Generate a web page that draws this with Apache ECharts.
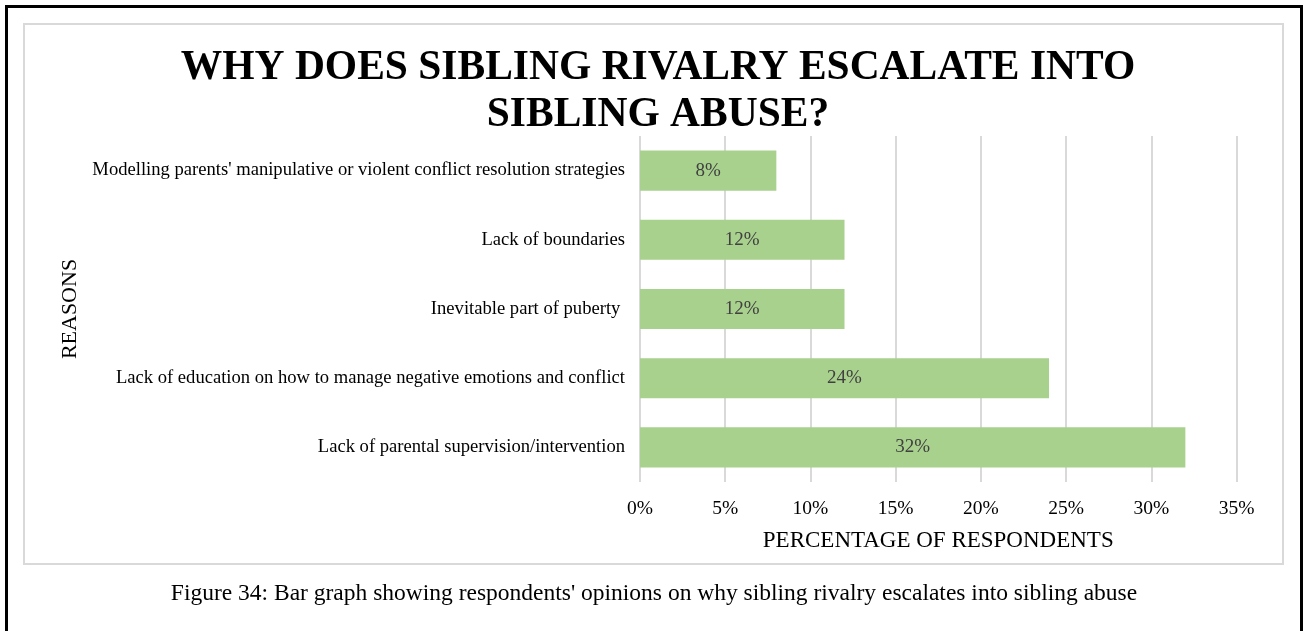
<!DOCTYPE html>
<html>
<head>
<meta charset="utf-8">
<script src="https://cdn.jsdelivr.net/npm/echarts@6/dist/echarts.min.js"></script>
<style>
  html, body { margin: 0; padding: 0; background: #fff; }
  #chart { width: 1308px; height: 631px; }
</style>
</head>
<body>
<div id="chart"></div>
<script>
// Reasons, listed bottom to top on the category axis
const reasons = [
  'Lack of parental supervision/intervention',
  'Lack of education on how to manage negative emotions and conflict',
  'Inevitable part of puberty ',
  'Lack of boundaries',
  "Modelling parents' manipulative or violent conflict resolution strategies"
];
// Share of respondents (%) for each reason
const shares = [32, 24, 12, 12, 8];
// Percentage axis ticks
const axisMin = 0;
const axisMax = 35;
const axisStep = 5;

const serif = '"Liberation Serif", "Times New Roman", serif';
const chart = echarts.init(document.getElementById('chart'));

chart.setOption({
  backgroundColor: '#ffffff',
  animation: false,
  title: {
    text: 'WHY DOES SIBLING RIVALRY ESCALATE INTO\nSIBLING ABUSE?',
    left: 653,
    textAlign: 'center',
    top: 40,
    textStyle: {
      fontFamily: serif,
      fontWeight: 'bold',
      fontSize: 41.5,
      lineHeight: 47,
      color: '#000000'
    }
  },
  graphic: [
    {
      type: 'rect',
      shape: { x: 6.5, y: 6.5, width: 1295, height: 640 },
      style: { fill: 'none', stroke: '#000000', lineWidth: 3 },
      silent: true
    },
    {
      type: 'rect',
      shape: { x: 24, y: 24, width: 1259, height: 540 },
      style: { fill: 'none', stroke: '#d9d9d9', lineWidth: 2 },
      silent: true
    },
    {
      type: 'text',
      left: 'center',
      top: 582,
      style: {
        text: "Figure 34: Bar graph showing respondents' opinions on why sibling rivalry escalates into sibling abuse",
        font: '23.5px ' + serif,
        fill: '#000000'
      }
    }
  ],
  grid: {
    left: 640,
    right: 71.5,
    top: 136,
    bottom: 149,
    containLabel: false
  },
  xAxis: {
    type: 'value',
    min: axisMin,
    max: axisMax,
    interval: axisStep,
    name: 'PERCENTAGE OF RESPONDENTS',
    nameLocation: 'middle',
    nameGap: 47,
    nameTextStyle: { fontFamily: serif, fontSize: 23, color: '#000000' },
    axisLine: { show: false },
    axisTick: { show: false },
    axisLabel: {
      formatter: '{value}%',
      margin: 17,
      fontFamily: serif,
      fontSize: 19.5,
      color: '#000000'
    },
    splitLine: { show: true, lineStyle: { color: '#d9d9d9', width: 2 } }
  },
  yAxis: {
    type: 'category',
    data: reasons,
    name: 'REASONS',
    nameLocation: 'middle',
    nameRotate: 90,
    nameGap: 559,
    nameTextStyle: { fontFamily: serif, fontSize: 22, color: '#000000' },
    axisLine: { show: false },
    axisTick: { show: false },
    axisLabel: {
      margin: 15,
      fontFamily: serif,
      fontSize: 18.6,
      color: '#000000'
    }
  },
  series: [
    {
      type: 'bar',
      data: shares,
      barWidth: '58%',
      itemStyle: { color: '#a9d18e' },
      label: {
        show: true,
        position: 'inside',
        formatter: '{c}%',
        fontFamily: serif,
        fontSize: 19,
        color: '#404040'
      }
    }
  ]
});
</script>
</body>
</html>
